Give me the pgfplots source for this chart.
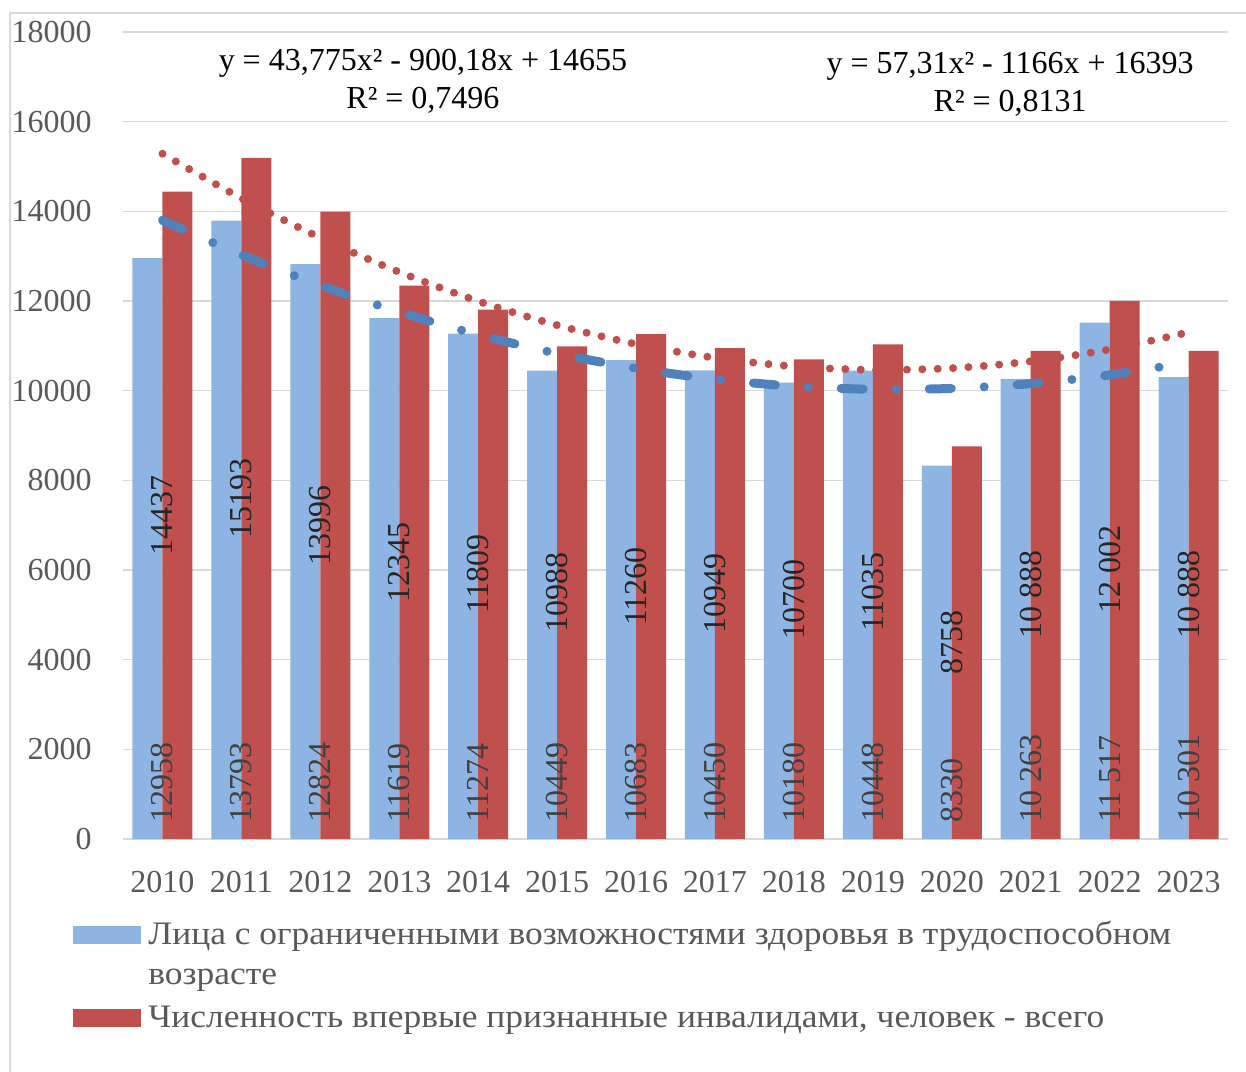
\documentclass[border=0pt]{standalone}
\usepackage{pgfplots}
\pgfplotsset{compat=1.18}
\usepackage{pgfplotstable}
\usepackage{fontspec}
\setmainfont{Liberation Serif}
\newfontfamily\legfont[FakeStretch=1.08]{Liberation Serif}
\definecolor{barblue}{HTML}{8EB4E3}
\definecolor{barred}{HTML}{C0504D}
\definecolor{trendblue}{HTML}{4F81BD}
\definecolor{trendred}{HTML}{C0504D}
\definecolor{textgray}{HTML}{595959}
\definecolor{labgray}{HTML}{404040}
\definecolor{gridgray}{HTML}{D9D9D9}
\newcommand\fs{\fontsize{16}{19}\selectfont}
\newcommand\lfs{\legfont\fontsize{16.4}{19}\selectfont}

\pgfplotstableread[col sep=comma]{
x,b,bl,r,rl
1,12958,12958,14437,14437
2,13793,13793,15193,15193
3,12824,12824,13996,13996
4,11619,11619,12345,12345
5,11274,11274,11809,11809
6,10449,10449,10988,10988
7,10683,10683,11260,11260
8,10450,10450,10949,10949
9,10180,10180,10700,10700
10,10448,10448,11035,11035
11,8330,8330,8758,8758
12,10263,10 263,10888,10 888
13,11517,11 517,12002,12 002
14,10301,10 301,10888,10 888
}\datatable

\pgfplotstableread{
x y
1 13798.6
2 13029.7
3 12348.4
4 11754.7
5 11248.5
6 10829.8
7 10498.7
8 10255.2
9 10099.2
10 10030.7
11 10049.8
12 10156.4
13 10350.6
14 10632.4
}\trendblue

\pgfplotstableread{
x y
1 15284.3
2 14290.2
3 13410.8
4 12646.0
5 11995.8
6 11460.2
7 11039.2
8 10732.8
9 10541.1
10 10464.0
11 10501.5
12 10653.6
13 10920.4
14 11301.8
}\trendred

\begin{document}
\begin{tikzpicture}
\useasboundingbox (0pt,0pt) rectangle (623pt,535.5pt);
\draw[gridgray, line width=0.75pt] (5pt,-2pt) -- (5pt,529pt) -- (626pt,529pt);
\begin{axis}[
  at={(61.5pt,116pt)}, anchor=south west,
  scale only axis, width=552.5pt, height=403.5pt,
  xmin=0.5, xmax=14.5, ymin=0, ymax=18000,
  xtick={1,...,14},
  xticklabels={2010,2011,2012,2013,2014,2015,2016,2017,2018,2019,2020,2021,2022,2023},
  ytick={0,2000,...,18000},
  scaled y ticks=false,
  ymajorgrids, grid style={gridgray, line width=0.8pt},
  axis line style={draw=none},
  major tick length=0pt,
  /pgf/number format/assume math mode=true,
  /pgf/number format/set thousands separator={},
  tick label style={font=\fs, text=textgray},
  xticklabel style={anchor=center, yshift=-21.5pt},
  yticklabel style={anchor=east, inner sep=0pt, xshift=-15.5pt},
]
\addplot[ybar, bar width=15pt, bar shift=-7.5pt, fill=barblue, draw=none,
  nodes near coords, point meta=explicit symbolic,
  visualization depends on={y \as \rawy},
  every node near coord/.append style={shift={(axis direction cs:0,-\rawy)},
    rotate=90, anchor=west, inner sep=0pt, inner xsep=8pt, font=\fs, text=labgray}]
  table[x=x, y=b, meta=bl] {\datatable};
\addplot[ybar, bar width=15pt, bar shift=7.5pt, fill=barred, draw=none,
  nodes near coords, point meta=explicit symbolic,
  visualization depends on={y \as \rawy},
  every node near coord/.append style={shift={(axis direction cs:0,-\rawy/2)},
    rotate=90, anchor=center, inner sep=0pt, font=\fs, text=black!85}]
  table[x=x, y=r, meta=rl] {\datatable};
\addplot[smooth, trendblue, line width=4.5pt, line cap=round,
  dash pattern=on 11pt off 16.5pt on 0pt off 16.5pt] table[x=x,y=y] {\trendblue};
\addplot[smooth, trendred, line width=4pt, line cap=round,
  dash pattern=on 0pt off 7.7pt] table[x=x,y=y] {\trendred};
\node[align=center, font=\fs, text=black, inner sep=0pt] at (axis cs:4.30,16897)
  {y = 43,775x² - 900,18x + 14655\\R² = 0,7496};
\node[align=center, font=\fs, text=black, inner sep=0pt] at (axis cs:11.74,16842)
  {y = 57,31x² - 1166x + 16393\\R² = 0,8131};
\end{axis}
% legend
\fill[barblue] (36.5pt,63.5pt) rectangle (70.5pt,72.5pt);
\node[anchor=base west, inner sep=0pt, font=\lfs, text=textgray] at (74pt,63.5pt)
  {Лица с ограниченными возможностями здоровья в трудоспособном};
\node[anchor=base west, inner sep=0pt, font=\lfs, text=textgray] at (74pt,43.5pt)
  {возрасте};
\fill[barred] (36.5pt,22pt) rectangle (70.5pt,31pt);
\node[anchor=base west, inner sep=0pt, font=\lfs, text=textgray] at (74pt,22pt)
  {Численность впервые признанные инвалидами, человек - всего};
\end{tikzpicture}
\end{document}
